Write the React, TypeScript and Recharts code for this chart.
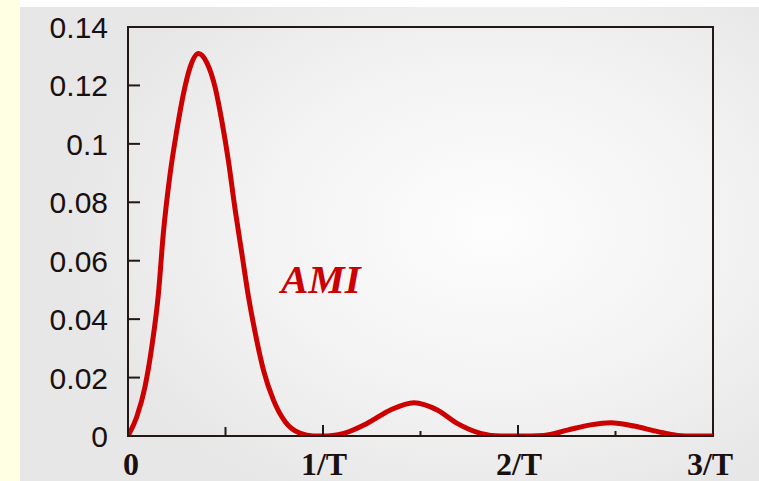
import React from "react";
import { LineChart, Line, XAxis, YAxis, ReferenceArea } from "recharts";

const freq = [0, 0.045, 0.087, 0.122, 0.156, 0.181, 0.216, 0.25, 0.284, 0.318, 0.361, 0.404, 0.447, 0.481, 0.515, 0.55, 0.584, 0.618, 0.653, 0.695, 0.746, 0.806, 0.884, 0.95, 1.0, 1.05, 1.106, 1.226, 1.346, 1.466, 1.586, 1.688, 1.808, 1.911, 2.0, 2.133, 2.253, 2.373, 2.476, 2.596, 2.716, 2.819, 2.9, 3.0];
const ami = [0, 0.0066, 0.0168, 0.0305, 0.0487, 0.0692, 0.0897, 0.1045, 0.117, 0.1261, 0.1309, 0.1278, 0.1193, 0.1079, 0.0942, 0.0772, 0.0624, 0.0476, 0.0351, 0.0225, 0.0123, 0.0049, 0.0009, 0, 0, 0.0002, 0.0009, 0.0043, 0.0089, 0.0114, 0.0089, 0.0043, 0.0009, 0, 0, 0.0002, 0.002, 0.0038, 0.0045, 0.0034, 0.0015, 0.0002, 0, 0];

const xTicks = [0, 0.5, 1, 1.5, 2, 2.5, 3];
const xTickLabels: Record<string, string> = { "0": "0", "1": "1/T", "2": "2/T", "3": "3/T" };
const yTicks = [0, 0.02, 0.04, 0.06, 0.08, 0.1, 0.12, 0.14];
const yTickLabels = ["0", "0.02", "0.04", "0.06", "0.08", "0.1", "0.12", "0.14"];
const seriesLabel = "AMI";

const data = freq.map((f, i) => ({ f, v: ami[i] }));

const AXIS = "#231815";
const RED = "#CC0000";

const renderXTick = (props: any) => {
  const { x, y, payload } = props;
  const val = payload.value;
  const major = Math.abs(val - Math.round(val)) < 1e-6;
  const len = major ? 11 : val === 0.5 ? 9 : 5;
  const label = xTickLabels[String(val)];
  return (
    <g key={`xt-${val}`}>
      {val !== 0 && val !== 3 && (
        <line x1={x} x2={x} y1={y} y2={y - len} stroke={AXIS} strokeWidth={2} />
      )}
      {label && (
        <text
          x={x + (val === 0 ? 3 : val === 3 ? -3 : 1)}
          y={y + 39}
          textAnchor="middle"
          fontFamily="'Liberation Serif', 'Times New Roman', serif"
          fontWeight="bold"
          fontSize={32}
          fill="#1a1010"
        >
          {label}
        </text>
      )}
    </g>
  );
};

const renderYTick = (props: any) => {
  const { x, y, payload } = props;
  const val = payload.value;
  const idx = yTicks.findIndex((t) => Math.abs(t - val) < 1e-9);
  return (
    <g key={`yt-${val}`}>
      {val !== 0 && val < 0.139 && (
        <line x1={x} x2={x + 12} y1={y} y2={y} stroke={AXIS} strokeWidth={2} />
      )}
      <text
        x={x - 20}
        y={y + 11}
        textAnchor="end"
        fontFamily="'Liberation Sans', Arial, sans-serif"
        fontSize={30}
        fill="#1a1010"
      >
        {idx >= 0 ? yTickLabels[idx] : String(val)}
      </text>
    </g>
  );
};

export default function App() {
  return (
    <div
      style={{
        position: "absolute",
        left: 0,
        top: 0,
        width: 759,
        height: 481,
        background: "#ffffff",
        overflow: "hidden",
      }}
    >
      <div style={{ position: "absolute", left: 0, top: 0, width: 20, height: 481, background: "#FFFFE3" }} />
      <div
        style={{
          position: "absolute",
          left: 20,
          top: 7,
          width: 739,
          height: 474,
          background: "radial-gradient(ellipse 420px 300px at 470px 220px, #fdfdfd 0%, #f3f3f3 55%, #e7e7e7 100%)",
        }}
      />
      <div style={{ position: "absolute", left: 0, top: 0 }}>
        <LineChart
          width={759}
          height={481}
          data={data}
          margin={{ top: 27, right: 46, bottom: 0, left: 28 }}
        >
          <XAxis
            dataKey="f"
            type="number"
            domain={[0, 3]}
            ticks={xTicks}
            height={45}
            tickSize={0}
            tickMargin={0}
            tickLine={false}
            axisLine={{ stroke: AXIS, strokeWidth: 2 }}
            tick={renderXTick}
            interval={0}
            allowDataOverflow
          />
          <YAxis
            type="number"
            domain={[0, 0.14]}
            ticks={yTicks}
            width={100}
            tickSize={0}
            tickMargin={0}
            tickLine={false}
            axisLine={{ stroke: AXIS, strokeWidth: 2 }}
            tick={renderYTick}
            interval={0}
            allowDataOverflow
          />
          <ReferenceArea
            x1={0}
            x2={3}
            y1={0}
            y2={0.14}
            fill="none"
            fillOpacity={0}
            stroke={AXIS}
            strokeWidth={2}
            ifOverflow="visible"
          />
          <Line
            type="monotone"
            dataKey="v"
            stroke={RED}
            strokeWidth={5}
            dot={false}
            isAnimationActive={false}
            strokeLinejoin="round"
            strokeLinecap="round"
          />
        </LineChart>
      </div>
      <svg
        width={759}
        height={481}
        style={{ position: "absolute", left: 0, top: 0, pointerEvents: "none" }}
      >
        <text
          x={281}
          y={293}
          fontFamily="'Liberation Serif', 'Times New Roman', serif"
          fontStyle="italic"
          fontWeight="bold"
          fontSize={41}
          fill={RED}
        >
          {seriesLabel}
        </text>
      </svg>
    </div>
  );
}
